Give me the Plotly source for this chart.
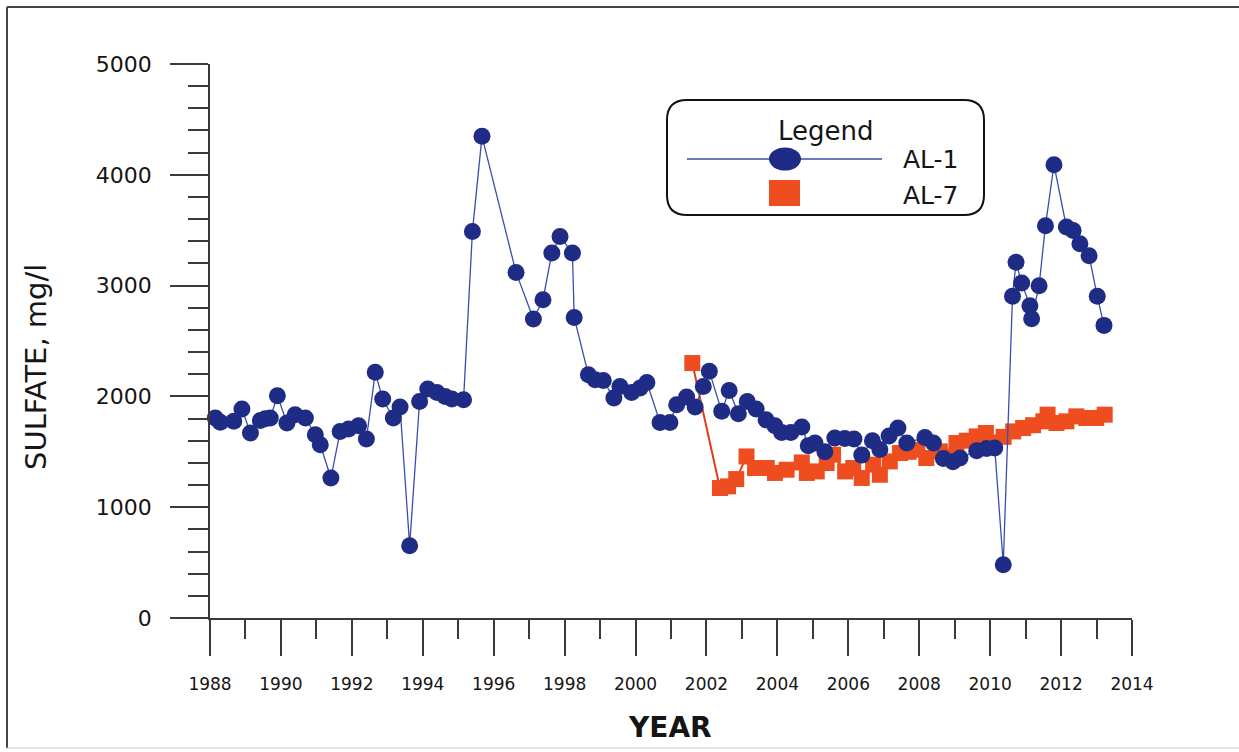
import plotly.graph_objects as go

# ---------------- data ----------------
al1_year = [1988.15, 1988.29, 1988.67, 1988.90, 1989.14, 1989.42, 1989.56, 1989.70, 1989.90,
            1990.17, 1990.40, 1990.69, 1990.97, 1991.11, 1991.41, 1991.67, 1991.91, 1992.19,
            1992.41, 1992.66, 1992.87, 1993.17, 1993.36, 1993.63, 1993.91, 1994.14, 1994.40,
            1994.63, 1994.82, 1995.15, 1995.40, 1995.67, 1996.63, 1997.12, 1997.39, 1997.64,
            1997.87, 1998.22, 1998.27, 1998.67, 1998.86, 1999.09, 1999.39, 1999.56, 1999.89,
            2000.13, 2000.32, 2000.69, 2000.97, 2001.16, 2001.44, 2001.68, 2001.91, 2002.08,
            2002.43, 2002.64, 2002.90, 2003.15, 2003.40, 2003.68, 2003.93, 2004.12, 2004.38,
            2004.69, 2004.87, 2005.06, 2005.34, 2005.62, 2005.90, 2006.16, 2006.38, 2006.68,
            2006.89, 2007.15, 2007.40, 2007.65, 2008.16, 2008.40, 2008.68, 2008.95, 2009.15,
            2009.62, 2009.90, 2010.13, 2010.37, 2010.63, 2010.73, 2010.89, 2011.12, 2011.17,
            2011.38, 2011.56, 2011.80, 2012.15, 2012.34, 2012.53, 2012.79, 2013.02, 2013.21]
al1_value = [1805, 1766, 1775, 1886, 1670, 1783, 1799, 1805, 2006,
             1760, 1835, 1805, 1654, 1564, 1263, 1684, 1706, 1735,
             1615, 2217, 1977, 1805, 1904, 653, 1955, 2067, 2036,
             2000, 1977, 1970, 3489, 4347, 3119, 2698, 2873, 3294,
             3444, 3294, 2713, 2196, 2151, 2144, 1985, 2090, 2036,
             2076, 2126, 1765, 1765, 1925, 1994, 1905, 2090, 2226,
             1865, 2054, 1844, 1955, 1886, 1790, 1735, 1675, 1675,
             1724, 1555, 1579, 1500, 1625, 1620, 1616, 1470, 1600,
             1520, 1642, 1715, 1580, 1630, 1579, 1440, 1410, 1444,
             1510, 1530, 1534, 481, 2903, 3210, 3023, 2819, 2701,
             2999, 3541, 4091, 3529, 3498, 3378, 3270, 2903, 2641]

al7_year = [2001.60, 2002.38, 2002.61, 2002.84, 2003.13, 2003.37, 2003.70, 2003.93, 2004.26,
            2004.69, 2004.83, 2005.11, 2005.39, 2005.57, 2005.91, 2006.14, 2006.38, 2006.70,
            2006.89, 2007.17, 2007.46, 2007.70, 2007.95, 2008.20, 2008.58, 2008.77, 2009.05,
            2009.34, 2009.62, 2009.88, 2010.10, 2010.38, 2010.65, 2010.93, 2011.21, 2011.50,
            2011.62, 2011.87, 2012.15, 2012.43, 2012.71, 2012.99, 2013.23]
al7_value = [2301, 1173, 1188, 1254, 1458, 1354, 1354, 1309, 1338,
             1404, 1309, 1323, 1399, 1474, 1323, 1354, 1264, 1384,
             1293, 1413, 1489, 1500, 1519, 1444, 1504, 1458, 1579,
             1600, 1639, 1670, 1585, 1635, 1684, 1715, 1740, 1775,
             1835, 1760, 1775, 1820, 1805, 1805, 1835]

x_ticks = [1988, 1990, 1992, 1994, 1996, 1998, 2000, 2002, 2004, 2006, 2008, 2010, 2012, 2014]
y_ticks = [0, 1000, 2000, 3000, 4000, 5000]

series_names = ["AL-1", "AL-7"]

# ---------------- layout geometry ----------------
W, H = 1239, 752
ML, MR, MT, MB = 210, 107, 64, 134
PW, PH = W - ML - MR, H - MT - MB

def px(x):
    return (x - ML) / PW

def py(y):
    return (H - MB - y) / PH

FONT = "DejaVu Sans"
BLUE = "#1E2C86"
BLUE_LINE = "#3A4DAE"
ORANGE = "#EE4E1F"
ORANGE_LINE = "#E23B1A"
AXIS = "#3a3a3a"
TXT = "#151515"

fig = go.Figure()

fig.add_trace(go.Scatter(
    x=al7_year, y=al7_value, mode="lines+markers", name=series_names[1],
    line=dict(color=ORANGE_LINE, width=2),
    marker=dict(symbol="square", size=16, color=ORANGE, line=dict(width=0)),
    showlegend=False, cliponaxis=False))

fig.add_trace(go.Scatter(
    x=al1_year, y=al1_value, mode="lines+markers", name=series_names[0],
    line=dict(color=BLUE_LINE, width=1.3),
    marker=dict(symbol="circle", size=17, color=BLUE, line=dict(width=0)),
    showlegend=False, cliponaxis=False))

fig.update_xaxes(
    range=[1988, 2014], tickmode="array", tickvals=x_ticks,
    ticktext=[str(t) for t in x_ticks],
    ticks="outside", ticklen=36, tickwidth=1.5, tickcolor=AXIS,
    showline=True, linecolor=AXIS, linewidth=1.5, showgrid=False, zeroline=False,
    tickfont=dict(family=FONT, size=17, color=TXT),
    ticklabelstandoff=14,
    minor=dict(dtick=1, tick0=1988, ticks="outside", ticklen=19, tickwidth=1.5, tickcolor=AXIS, showgrid=False))

fig.update_yaxes(
    range=[0, 5000], tickmode="array", tickvals=y_ticks,
    ticks="outside", ticklen=38, tickwidth=1.5, tickcolor=AXIS,
    showline=True, linecolor=AXIS, linewidth=1.5, showgrid=False, zeroline=False,
    tickfont=dict(family=FONT, size=22, color=TXT),
    ticklabelstandoff=14,
    minor=dict(dtick=200, tick0=0, ticks="outside", ticklen=20, tickwidth=1.5, tickcolor=AXIS, showgrid=False))

shapes = []
# outer frame
shapes.append(dict(type="line", xref="paper", yref="paper", x0=px(7), x1=px(1245), y0=py(7), y1=py(7),
                   line=dict(color="#444", width=2)))
shapes.append(dict(type="line", xref="paper", yref="paper", x0=px(7), x1=px(7), y0=py(7), y1=py(748),
                   line=dict(color="#444", width=2)))
shapes.append(dict(type="line", xref="paper", yref="paper", x0=px(7), x1=px(1245), y0=py(748), y1=py(748),
                   line=dict(color="#cccccc", width=1)))

# legend box (rounded rectangle)
lx0, lx1, ly0, ly1, r = 667, 984, 100, 215, 20
def P(x, y):
    return f"{px(x):.5f},{py(y):.5f}"
path = (f"M {P(lx0 + r, ly0)} L {P(lx1 - r, ly0)} Q {P(lx1, ly0)} {P(lx1, ly0 + r)} "
        f"L {P(lx1, ly1 - r)} Q {P(lx1, ly1)} {P(lx1 - r, ly1)} "
        f"L {P(lx0 + r, ly1)} Q {P(lx0, ly1)} {P(lx0, ly1 - r)} "
        f"L {P(lx0, ly0 + r)} Q {P(lx0, ly0)} {P(lx0 + r, ly0)} Z")
shapes.append(dict(type="path", xref="paper", yref="paper", path=path,
                   line=dict(color="#111", width=2), fillcolor="white", layer="below"))
shapes.append(dict(type="line", xref="paper", yref="paper", x0=px(687), x1=px(882), y0=py(159), y1=py(159),
                   line=dict(color=BLUE_LINE, width=1.3)))
shapes.append(dict(type="circle", xref="paper", yref="paper", x0=px(769), x1=px(801), y0=py(147.5), y1=py(170.5),
                   fillcolor=BLUE, line=dict(width=0)))
shapes.append(dict(type="rect", xref="paper", yref="paper", x0=px(769), x1=px(800), y0=py(180), y1=py(206),
                   fillcolor=ORANGE, line=dict(width=0)))

annotations = [
    dict(text="Legend", xref="paper", yref="paper", x=px(826), y=py(131), showarrow=False,
         xanchor="center", yanchor="middle", font=dict(family=FONT, size=26, color=TXT)),
    dict(text=series_names[0], xref="paper", yref="paper", x=px(901), y=py(159), showarrow=False,
         xanchor="left", yanchor="middle", font=dict(family=FONT, size=25, color=TXT)),
    dict(text=series_names[1], xref="paper", yref="paper", x=px(901), y=py(195), showarrow=False,
         xanchor="left", yanchor="middle", font=dict(family=FONT, size=25, color=TXT)),
    dict(text="<b>YEAR</b>", xref="paper", yref="paper", x=px(670), y=py(727), showarrow=False,
         xanchor="center", yanchor="middle", font=dict(family=FONT, size=28, color=TXT)),
    dict(text="SULFATE, mg/l", xref="paper", yref="paper", x=px(36), y=py(367), showarrow=False,
         textangle=-90, xanchor="center", yanchor="middle", font=dict(family=FONT, size=29, color=TXT)),
]

fig.update_layout(
    width=W, height=H,
    margin=dict(l=ML, r=MR, t=MT, b=MB, pad=0),
    paper_bgcolor="white", plot_bgcolor="white",
    showlegend=False, shapes=shapes, annotations=annotations,
)

fig.write_html("out.html")
